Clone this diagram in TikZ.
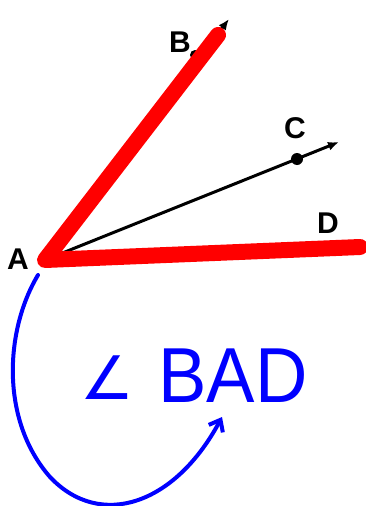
\documentclass[tikz,border=0pt]{standalone}
\usepackage{fontspec}
\setmainfont{Liberation Sans}
\newfontfamily\symfont{DejaVu Sans}
\usetikzlibrary{arrows.meta}
\begin{document}
\begin{tikzpicture}[x=1pt, y=-1pt, every node/.style={font=\fontsize{30}{30}\selectfont\bfseries}]
  \useasboundingbox (0,0) rectangle (366,506);
  \coordinate (A) at (45,260);
  \coordinate (B) at (195,55);
  \coordinate (B1) at (229,19);
  \coordinate (B2) at (218,35);
  \coordinate (C) at (297,159);
  \coordinate (C1) at (339,142);
  \coordinate (D) at (360,247);
  \draw[line width=3pt, -{Latex[length=11pt,width=9pt]}] (A)--(B1);
  \fill (B) circle (5);
  \draw[line width=3pt, -{Latex[length=11pt,width=9pt]}] (A)--(C1);
  \fill (C) circle (6);
  \draw[red, line width=16pt, line cap=round, line join=round] (B2)--(A)--(D);
  \node (lA) at (18,259) {A};
  \node (lB) at (180,42) {B};
  \node (lC) at (295,128) {C};
  \node (lD) at (328,223) {D};
  \node[blue, font=\fontsize{60}{60}\symfont] (ang) at (107,378) {∠};
  \node[blue, font=\fontsize{78}{78}\selectfont, xscale=0.93] (bad) at (233,376) {BAD};
  \coordinate (s) at (38,275);
  \draw[blue, line width=4pt, line cap=round, -{Straight Barb[length=10pt,width=16pt]}] (s) .. controls (5,330) and (0,420) .. (50,477)
    .. controls (100,530) and (175,505) .. (222,417);
\end{tikzpicture}
\end{document}
